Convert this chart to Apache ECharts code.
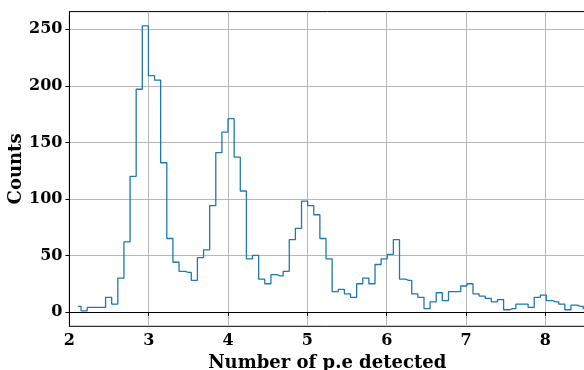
<!DOCTYPE html>
<html lang="en">
<head>
    <meta charset="UTF-8">
    <title>p.e histogram</title>
    <script src="https://cdn.jsdelivr.net/npm/echarts@6/dist/echarts.min.js"></script>
    <style>
        html, body { margin: 0; padding: 0; background: #fff; }
    </style>
</head>
<body>
    <div id="main" style="width: 584px; height: 370px;"></div>
    <script>
        // histogram bins (centres start at binStart, spaced by binWidth)
        const binStart = 2.1085;
        const binWidth = 0.0772;
        const counts = [
            5, 1, 4, 4, 4, 13, 7, 30, 62, 120,
            197, 253, 209, 205, 132, 65, 44, 36, 35, 28,
            48, 55, 94, 141, 159, 171, 137, 107, 47, 50,
            29, 25, 33, 32, 36, 64, 74, 98, 94, 86,
            65, 47, 18, 20, 16, 13, 25, 30, 25, 42,
            47, 51, 64, 29, 28, 16, 13, 3, 9, 17,
            10, 18, 18, 23, 25, 16, 14, 12, 9, 11,
            2, 3, 7, 7, 4, 13, 15, 10, 9, 7,
            2, 6, 5, 3
        ];
        const xTicks = [2, 3, 4, 5, 6, 7, 8];
        const yTicks = [0, 50, 100, 150, 200, 250];

        const points = counts.map((c, i) => [binStart + i * binWidth, c]);

        const font = 'DejaVu Serif';
        var myChart = echarts.init(document.getElementById('main'));

        let option = {
            animation: false,
            grid: {
                left: 69.4,
                right: -1,
                top: 11.6,
                bottom: 43.7,
                outerBoundsMode: 'none',
                containLabel: false,
                show: true,
                borderColor: '#000',
                borderWidth: 1
            },
            xAxis: {
                type: 'value',
                min: 2,
                max: 8.5,
                name: 'Number of p.e detected',
                nameLocation: 'middle',
                nameGap: 27,
                nameTextStyle: { fontFamily: font, fontWeight: 'bold', fontSize: 18, color: '#000' },
                axisLine: { show: true, lineStyle: { color: '#000', width: 1 } },
                axisTick: { show: true, length: 4, customValues: xTicks, lineStyle: { color: '#000' } },
                axisLabel: { customValues: xTicks, margin: 7, fontFamily: font, fontWeight: 'bold', fontSize: 16, color: '#000' },
                splitLine: { show: true, lineStyle: { color: '#b8b8b8', width: 1 } }
            },
            yAxis: {
                type: 'value',
                min: -12.65,
                max: 265.65,
                name: 'Counts',
                nameLocation: 'middle',
                nameGap: 44,
                nameMoveOverlap: false,
                nameTextStyle: { fontFamily: font, fontWeight: 'bold', fontSize: 18, color: '#000' },
                axisLine: { show: true, lineStyle: { color: '#000', width: 1 } },
                axisTick: { show: true, length: 4, customValues: yTicks, lineStyle: { color: '#000' } },
                axisLabel: { customValues: yTicks, margin: 7, fontFamily: font, fontWeight: 'bold', fontSize: 16, color: '#000' },
                splitLine: { show: true, lineStyle: { color: '#b8b8b8', width: 1 } }
            },
            series: [
                {
                    type: 'line',
                    step: 'middle',
                    data: points,
                    showSymbol: false,
                    lineStyle: { color: '#1f77b4', width: 1.3 }
                }
            ]
        };

        myChart.setOption(option);
    </script>
</body>
</html>
